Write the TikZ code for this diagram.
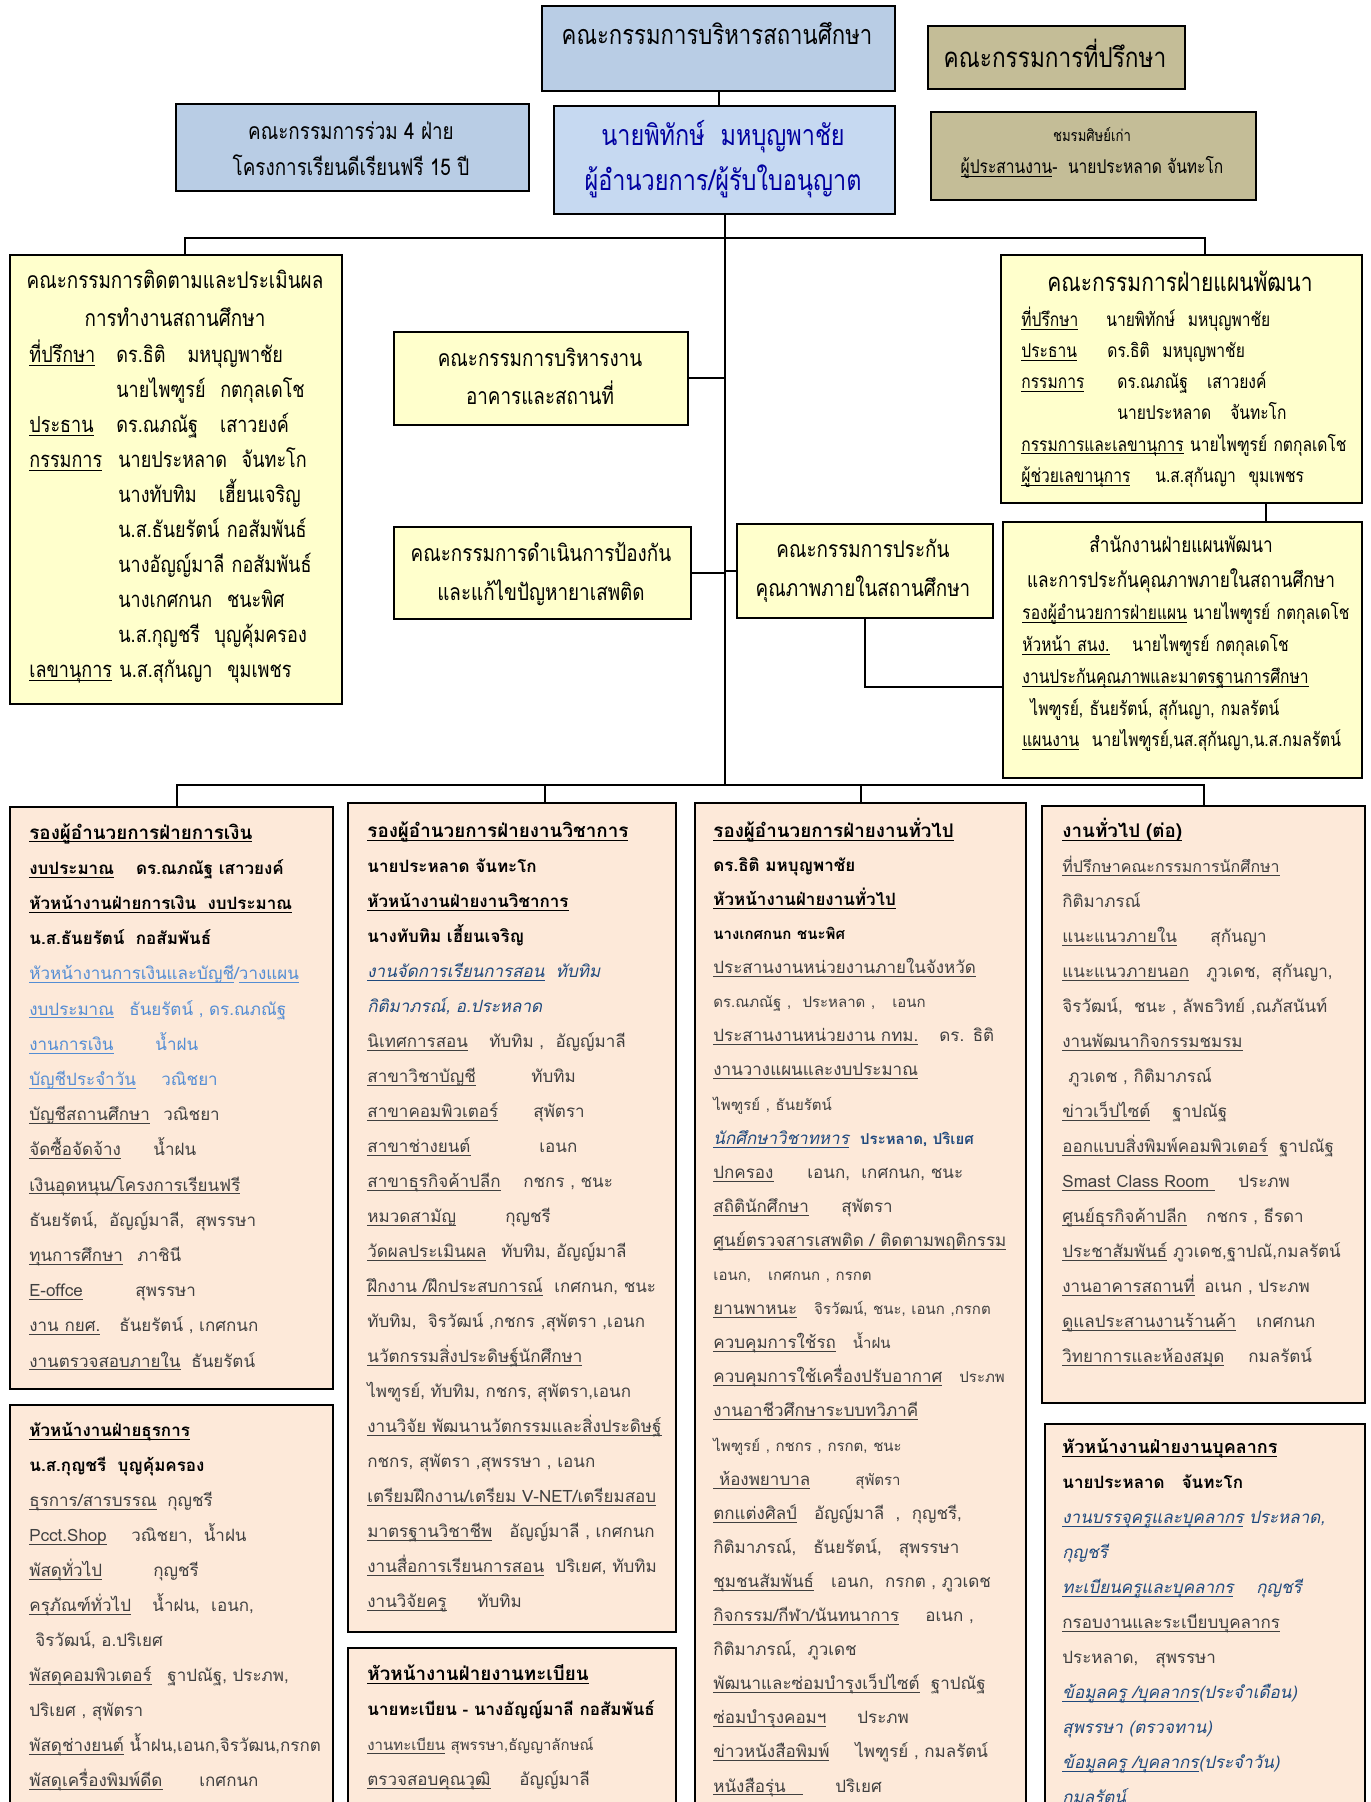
\documentclass[tikz,border=0pt]{standalone}
\usepackage{fontspec}
\newfontfamily\thai[Script=Thai]{Loma}
\newfontfamily\thaicond[Script=Thai,FakeStretch=0.82]{Loma}
\usepackage{xcolor}
\definecolor{steelblue}{RGB}{185,205,229}
\definecolor{paleblue}{RGB}{198,217,241}
\definecolor{khaki}{RGB}{196,189,151}
\definecolor{paleyellow}{RGB}{255,255,204}
\definecolor{peach}{RGB}{253,233,217}
\definecolor{navy}{RGB}{0,0,160}
\definecolor{linkblue}{RGB}{84,141,212}
\definecolor{darkblue}{RGB}{31,73,125}
\definecolor{textgray}{RGB}{64,64,64}

\newcommand{\uln}[1]{\underline{\smash{#1}}}
\newcommand{\lab}[2]{\makebox[#1pt][l]{\uln{#2}}}
\newcommand{\ind}[1]{\hspace*{#1pt}}
\newcommand{\hd}[1]{{\color{black}\bfseries #1}}
\newcommand{\headsz}[1]{{\fontsize{9.4}{17.5}\selectfont #1}}
\newcommand{\lk}[1]{{\color{linkblue}#1}}
\newcommand{\dbi}[1]{{\color{darkblue}\itshape #1}}
\newcommand{\hsz}[2]{\thaicond\fontsize{#1}{#2}\selectfont}
\newcommand{\lsz}[2]{\thai\fontsize{#1}{#2}\selectfont}
\newcommand{\orgbox}[6]{\node[orgbox, fill=#6, minimum width=#4*0.5pt, minimum height=#5*0.5pt] (#1) at (#2,#3) {};}

\tikzset{
  orgbox/.style={draw=black, line width=1pt, anchor=north west, inner sep=0pt},
  orgline/.style={draw=black, line width=1pt},
  headtext/.style={anchor=north, align=center, inner sep=0pt},
  listtext/.style={anchor=north west, align=left, inner sep=0pt, text width=200pt, text=textgray},
}

\begin{document}
\begin{tikzpicture}[x=0.5pt, y=-0.5pt]
\useasboundingbox (0,0) rectangle (1370,1802);
\clip (0,0) rectangle (1370,1802);

% upper part
\orgbox{board}{541}{5}{353}{85}{steelblue}
\orgbox{advisors}{927}{25}{257}{63}{khaki}
\orgbox{fourparty}{175}{103}{353}{87}{steelblue}
\orgbox{director}{553}{105}{341}{108}{paleblue}
\orgbox{alumni}{930}{111}{325}{88}{khaki}
\orgbox{monitor}{9}{254}{332}{449}{paleyellow}
\orgbox{building}{393}{331}{294}{93}{paleyellow}
\orgbox{drugs}{393}{526}{297}{92}{paleyellow}
\orgbox{qa}{736}{523}{256}{94}{paleyellow}
\orgbox{plan}{1000}{254}{361}{248}{paleyellow}
\orgbox{planoffice}{1002}{521}{359}{256}{paleyellow}

% lower part
\orgbox{finance}{9}{806}{323}{582}{peach}
\orgbox{admin}{9}{1404}{323}{450}{peach}
\orgbox{academic}{347}{802}{328}{829}{peach}
\orgbox{registry}{347}{1647}{328}{250}{peach}
\orgbox{general}{694}{802}{331}{1100}{peach}
\orgbox{generalcont}{1041}{805}{323}{597}{peach}
\orgbox{personnel}{1044}{1423}{320}{450}{peach}

% connectors
\coordinate (upbar) at (724,238);
\coordinate (lowbar) at (724,785);
\coordinate (monitortop) at ([xshift=4.5pt]monitor.north);
\coordinate (plantop) at ([xshift=11.75pt]plan.north);
\coordinate (financetop) at ([xshift=2.75pt]finance.north);
\coordinate (academictop) at ([xshift=16.5pt]academic.north);
\coordinate (plandrop) at ([xshift=42pt]plan.south);
\coordinate (officein) at ([yshift=-18.5pt]planoffice.west);
\draw[orgline] (board.south) -- (board.south |- director.north);
\draw[orgline] (director.south) -- (director.south |- lowbar);
\draw[orgline] (monitortop) |- (upbar) -| (plantop);
\draw[orgline] (financetop) |- (lowbar) -| (generalcont.north);
\draw[orgline] (academictop) -- (academictop |- lowbar);
\draw[orgline] (general.north) -- (general.north |- lowbar);
\draw[orgline] (building.east) -- (building.east -| lowbar);
\draw[orgline] (drugs.east) -- (drugs.east -| lowbar);
\draw[orgline] (qa.west) -- (qa.west -| lowbar);
\draw[orgline] (plandrop) -- (plandrop |- planoffice.north);
\draw[orgline] (qa.south) |- (officein);

% texts of the upper boxes
\node[headtext, font=\hsz{13.5}{17}] (boardtxt) at (717,20) {\strut คณะกรรมการบริหารสถานศึกษา};
\node[headtext, font=\hsz{13.8}{17}] (advisorstxt) at (1055,39) {\strut คณะกรรมการที่ปรึกษา};
\node[headtext, font=\hsz{11.5}{18}] (fourpartytxt) at (351,114) {\strut คณะกรรมการร่วม 4 ฝ่าย\\ โครงการเรียนดีเรียนฟรี 15 ปี};
\node[headtext, font=\hsz{14.3}{22.5}, text=navy] (directortxt) at (723,114) {\strut นายพิทักษ์\ \ มหบุญพาชัย\\ ผู้อำนวยการ/ผู้รับใบอนุญาต};
\node[headtext, font=\hsz{9.5}{16}] (alumnitxt) at (1092,119) {\strut{\fontsize{8}{16}\selectfont ชมรมศิษย์เก่า}\\ \uln{ผู้ประสานงาน}-\ \ นายประหลาด จันทะโก};
\node[headtext, font=\hsz{11.5}{19}] (monitortitle) at (175,262) {\strut คณะกรรมการติดตามและประเมินผล\\ การทำงานสถานศึกษา};
\node[listtext, font=\hsz{11}{17.5}, text=black] (monitorlist) at (29,338) {\strut\lab{43.5}{ที่ปรึกษา}ดร.ธิติ\quad มหบุญพาชัย\\
\ind{43.5}นายไพฑูรย์\ \ กตกุลเดโช\\
\lab{43.5}{ประธาน}ดร.ณภณัฐ\quad เสาวยงค์\\
\lab{44.5}{กรรมการ}นายประหลาด\ \ จันทะโก\\
\ind{44.5}นางทับทิม\quad เฮี้ยนเจริญ\\
\ind{44.5}น.ส.ธันยรัตน์ กอสัมพันธ์\\
\ind{44.5}นางอัญญ์มาลี กอสัมพันธ์\\
\ind{44.5}นางเกศกนก\ \ ชนะพิศ\\
\ind{44.5}น.ส.กุญชรี\ \ บุญคุ้มครอง\\
\uln{เลขานุการ}\ น.ส.สุกันญา\ \ ขุมเพชร};
\node[headtext, font=\hsz{11.5}{19}] (buildingtxt) at (540,340) {\strut คณะกรรมการบริหารงาน\\ อาคารและสถานที่};
\node[headtext, font=\hsz{11.5}{19.5}] (drugstxt) at (541,534) {\strut คณะกรรมการดำเนินการป้องกัน\\ และแก้ไขปัญหายาเสพติด};
\node[headtext, font=\hsz{11.5}{19.5}] (qatxt) at (863,530) {\strut คณะกรรมการประกัน\\ คุณภาพภายในสถานศึกษา};
\node[headtext, font=\hsz{12.8}{16}] (plantitle) at (1180,269) {\strut คณะกรรมการฝ่ายแผนพัฒนา};
\node[listtext, font=\hsz{9.5}{15.6}, text=black] (planlist) at (1021,304) {\strut\lab{42.5}{ที่ปรึกษา}นายพิทักษ์\ \ มหบุญพาชัย\\
\lab{43}{ประธาน}ดร.ธิติ\ \ มหบุญพาชัย\\
\lab{48}{กรรมการ}ดร.ณภณัฐ\quad เสาวยงค์\\
\ind{48}นายประหลาด\quad จันทะโก\\
\uln{กรรมการและเลขานุการ} นายไพฑูรย์ กตกุลเดโช\\
\lab{67}{ผู้ช่วยเลขานุการ}น.ส.สุกันญา\ \ ขุมเพชร};
\node[headtext, font=\hsz{10.5}{17.5}] (officetitle) at (1181,528) {\strut สำนักงานฝ่ายแผนพัฒนา\\ และการประกันคุณภาพภายในสถานศึกษา};
\node[listtext, font=\hsz{9.5}{15.9}, text=black] (officelist) at (1022,597) {\strut\uln{รองผู้อำนวยการฝ่ายแผน} นายไพฑูรย์ กตกุลเดโช\\
\lab{55}{หัวหน้า สนง.}นายไพฑูรย์ กตกุลเดโช\\
\uln{งานประกันคุณภาพและมาตรฐานการศึกษา}\\
\ind{4}ไพฑูรย์, ธันยรัตน์, สุกันญา, กมลรัตน์\\
\uln{แผนงาน}\ \ นายไพฑูรย์,นส.สุกันญา,น.ส.กมลรัตน์};

% texts of the lower boxes
\node[listtext, font=\lsz{8.5}{17.6}] (financelist) at (29,814) {\strut\hd{\headsz{\uln{รองผู้อำนวยการฝ่ายการเงิน}}}\\
\hd{\lab{53.4}{งบประมาณ}ดร.ณภณัฐ เสาวยงค์}\\
\hd{\uln{หัวหน้างานฝ่ายการเงิน\ \ งบประมาณ}}\\
\hd{น.ส.ธันยรัตน์\ \ กอสัมพันธ์}\\
\lk{\uln{หัวหน้างานการเงินและบัญชี}/\uln{วางแผน}}\\
\lk{\lab{50}{งบประมาณ}ธันยรัตน์ , ดร.ณภณัฐ}\\
\lk{\lab{63}{งานการเงิน}น้ำฝน}\\
\lk{\lab{66}{บัญชีประจำวัน}วณิชยา}\\
\lab{67}{บัญชีสถานศึกษา}วณิชยา\\
\lab{62}{จัดซื้อจัดจ้าง}น้ำฝน\\
\uln{เงินอุดหนุน/โครงการเรียนฟรี}\\
ธันยรัตน์,\ \ อัญญ์มาลี,\ \ สุพรรษา\\
\lab{54}{ทุนการศึกษา}ภาชินี\\
\lab{53}{E-offce}สุพรรษา\\
\lab{45}{งาน กยศ.}ธันยรัตน์ , เกศกนก\\
\lab{81}{งานตรวจสอบภายใน}ธันยรัตน์};
\node[listtext, font=\lsz{8.5}{17.5}] (adminlist) at (29,1412) {\strut\hd{\uln{หัวหน้างานฝ่ายธุรการ}}\\
\hd{น.ส.กุญชรี\ \ บุญคุ้มครอง}\\
\lab{69}{ธุรการ/สารบรรณ}กุญชรี\\
\lab{51}{Pcct.Shop}วณิชยา,\ \ น้ำฝน\\
\lab{62}{พัสดุทั่วไป}กุญชรี\\
\lab{61.5}{ครุภัณฑ์ทั่วไป}น้ำฝน,\ \ เอนก,\\
\ind{3}จิรวัฒน์, อ.ปริเยศ\\
\lab{69}{พัสดุคอมพิวเตอร์}ฐาปณัฐ, ประภพ,\\
ปริเยศ , สุพัตรา\\
\uln{พัสดุช่างยนต์} น้ำฝน,เอนก,จิรวัฒน,กรกต\\
\lab{85}{พัสดุเครื่องพิมพ์ดีด}เกศกนก};
\node[listtext, font=\lsz{8.5}{17.5}] (academiclist) at (367,813) {\strut\hd{\headsz{\uln{รองผู้อำนวยการฝ่ายงานวิชาการ}}}\\
\hd{นายประหลาด จันทะโก}\\
\hd{\uln{หัวหน้างานฝ่ายงานวิชาการ}}\\
\hd{นางทับทิม เฮี้ยนเจริญ}\\
\dbi{\uln{งานจัดการเรียนการสอน}\ \ ทับทิม}\\
\dbi{กิติมาภรณ์, อ.ประหลาด}\\
\lab{61}{นิเทศการสอน}ทับทิม ,\ \ อัญญ์มาลี\\
\lab{82}{สาขาวิชาบัญชี}ทับทิม\\
\lab{83}{สาขาคอมพิวเตอร์}สุพัตรา\\
\lab{86}{สาขาช่างยนต์}เอนก\\
\lab{78}{สาขาธุรกิจค้าปลีก}กชกร , ชนะ\\
\lab{69}{หมวดสามัญ}กุญชรี\\
\lab{67}{วัดผลประเมินผล}ทับทิม, อัญญ์มาลี\\
\uln{ฝึกงาน /ฝึกประสบการณ์}\ \ เกศกนก, ชนะ\\
ทับทิม,\ \ จิรวัฒน์ ,กชกร ,สุพัตรา ,เอนก\\
\uln{นวัตกรรมสิ่งประดิษฐ์นักศึกษา}\\
ไพฑูรย์, ทับทิม, กชกร, สุพัตรา,เอนก\\
\uln{งานวิจัย พัฒนานวัตกรรมและสิ่งประดิษฐ์}\\
กชกร, สุพัตรา ,สุพรรษา , เอนก\\
\uln{เตรียมฝึกงาน/เตรียม V-NET/เตรียมสอบ}\\
\uln{มาตรฐานวิชาชีพ}\quad อัญญ์มาลี , เกศกนก\\
\uln{งานสื่อการเรียนการสอน}\ \ ปริเยศ, ทับทิม\\
\lab{55}{งานวิจัยครู}ทับทิม};
\node[listtext, font=\lsz{8.5}{17.5}] (registrylist) at (367,1656) {\strut\hd{\headsz{\uln{หัวหน้างานฝ่ายงานทะเบียน}}}\\
\hd{นายทะเบียน - นางอัญญ์มาลี กอสัมพันธ์}\\
{\fontsize{7.5}{17.5}\selectfont\uln{งานทะเบียน} สุพรรษา,ธัญญาลักษณ์}\\
\lab{76}{ตรวจสอบคุณวุฒิ}อัญญ์มาลี};
\node[listtext, font=\lsz{8.5}{17.05}] (generallist) at (713,813) {\strut\hd{\headsz{\uln{รองผู้อำนวยการฝ่ายงานทั่วไป}}}\\
\hd{ดร.ธิติ มหบุญพาชัย}\\
\hd{\uln{หัวหน้างานฝ่ายงานทั่วไป}}\\
\hd{\fontsize{7.5}{17.05}\selectfont นางเกศกนก ชนะพิศ}\\
\uln{ประสานงานหน่วยงานภายในจังหวัด}\\
{\fontsize{7.5}{17.05}\selectfont ดร.ณภณัฐ ,\ \ ประหลาด ,\ \ \ เอนก}\\
\lab{113}{ประสานงานหน่วยงาน กทม.}ดร. ธิติ\\
\uln{งานวางแผนและงบประมาณ}\\
{\fontsize{7.5}{17.05}\selectfont ไพฑูรย์ , ธันยรัตน์}\\
\dbi{\uln{นักศึกษาวิชาทหาร}}\ \ {\color{darkblue}\bfseries\fontsize{7.5}{17.05}\selectfont ประหลาด, ปริเยศ}\\
\lab{47}{ปกครอง}เอนก,\ \ เกศกนก, ชนะ\\
\lab{64}{สถิตินักศึกษา}สุพัตรา\\
\uln{ศูนย์ตรวจสารเสพติด / ติดตามพฤติกรรม}\\
{\fontsize{7.5}{17.05}\selectfont เอนก,\ \ \ เกศกนก , กรกต}\\
\uln{ยานพาหนะ}\ \ \ {\fontsize{7.5}{17.05}\selectfont จิรวัฒน์, ชนะ, เอนก ,กรกต}\\
\uln{ควบคุมการใช้รถ}\ \ \ {\fontsize{7.5}{17.05}\selectfont น้ำฝน}\\
\uln{ควบคุมการใช้เครื่องปรับอากาศ}\ \ \ {\fontsize{7.5}{17.05}\selectfont ประภพ}\\
\uln{งานอาชีวศึกษาระบบทวิภาคี}\\
{\fontsize{7.5}{17.05}\selectfont ไพฑูรย์ , กชกร , กรกต, ชนะ}\\
\lab{71}{\ ห้องพยาบาล}{\fontsize{7.5}{17.05}\selectfont สุพัตรา}\\
\uln{ตกแต่งศิลป์}\ \ \ อัญญ์มาลี\ \ ,\ \ กุญชรี,\\
กิติมาภรณ์,\ \ \ ธันยรัตน์,\ \ \ สุพรรษา\\
\uln{ชุมชนสัมพันธ์}\ \ \ เอนก,\ \ กรกต , ภูวเดช\\
\lab{106}{กิจกรรม/กีฬา/นันทนาการ}อเนก ,\\
กิติมาภรณ์,\ \ ภูวเดช\\
\uln{พัฒนาและซ่อมบำรุงเว็ปไซต์}\ \ ฐาปณัฐ\\
\lab{72}{ซ่อมบำรุงคอมฯ}ประภพ\\
\lab{71}{ข่าวหนังสือพิมพ์}ไพฑูรย์ , กมลรัตน์\\
\lab{61}{หนังสือรุ่น\ \ \ }ปริเยศ};
\node[listtext, font=\lsz{8.5}{17.5}] (generalcontlist) at (1062,813) {\strut\hd{\headsz{\uln{งานทั่วไป (ต่อ)}}}\\
{\fontsize{8}{17.5}\selectfont\uln{ที่ปรึกษาคณะกรรมการนักศึกษา}}\\
กิติมาภรณ์\\
\lab{74}{แนะแนวภายใน}สุกันญา\\
\lab{72}{แนะแนวภายนอก}ภูวเดช,\ \ สุกันญา,\\
จิรวัฒน์,\ \ ชนะ , ลัพธวิทย์ ,ณภัสนันท์\\
\uln{งานพัฒนากิจกรรมชมรม}\\
\ind{3}ภูวเดช , กิติมาภรณ์\\
\lab{55}{ข่าวเว็ปไซต์}ฐาปณัฐ\\
\uln{ออกแบบสิ่งพิมพ์คอมพิวเตอร์}\ \ ฐาปณัฐ\\
\lab{88}{Smast Class Room\ }ประภพ\\
\lab{72}{ศูนย์ธุรกิจค้าปลีก}กชกร , ธีรดา\\
\uln{ประชาสัมพันธ์} ภูวเดช,ฐาปณั,กมลรัตน์\\
\lab{71}{งานอาคารสถานที่}อเนก , ประภพ\\
\lab{97}{ดูแลประสานงานร้านค้า}เกศกนก\\
\lab{93}{วิทยาการและห้องสมุด}กมลรัตน์};
\node[listtext, font=\lsz{8.5}{17.5}] (personnellist) at (1062,1429) {\strut\hd{{\fontsize{9}{17.5}\selectfont\uln{หัวหน้างานฝ่ายงานบุคลากร}}}\\
\hd{นายประหลาด\quad จันทะโก}\\
\dbi{\uln{งานบรรจุครูและบุคลากร} ประหลาด,}\\
\dbi{กุญชรี}\\
\dbi{\lab{97}{ทะเบียนครูและบุคลากร}กุญชรี}\\
\uln{กรอบงานและระเบียบบุคลากร}\\
ประหลาด,\quad สุพรรษา\\
\dbi{\uln{ข้อมูลครู /บุคลากร}(ประจำเดือน)}\\
\dbi{สุพรรษา (ตรวจทาน)}\\
\dbi{\uln{ข้อมูลครู /บุคลากร}(ประจำวัน)}\\
\dbi{กมลรัตน์}};
\end{tikzpicture}
\end{document}
